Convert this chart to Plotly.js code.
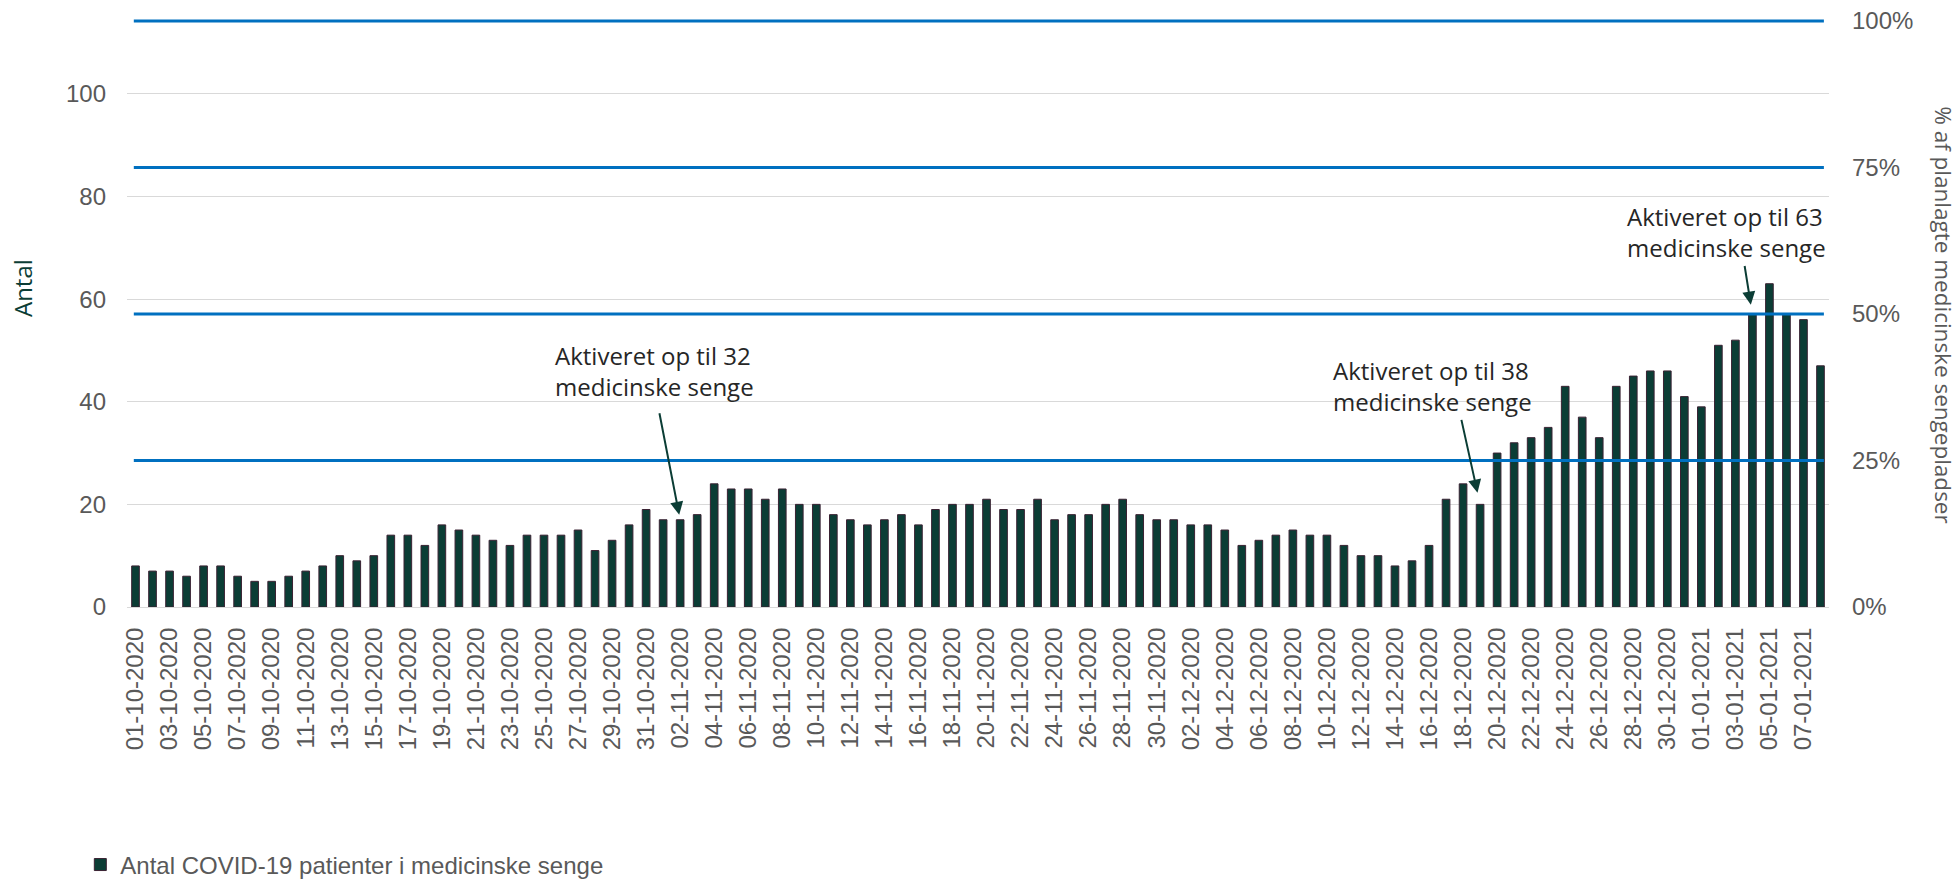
<!DOCTYPE html>
<html>
<head>
<meta charset="utf-8">
<script src="https://cdn.plot.ly/plotly-3.0.1.min.js"></script>
<style>
html,body{margin:0;padding:0;background:#fff;}
#chart{width:1959px;height:879px;}
</style>
</head>
<body>
<div id="chart"></div>
<script>
const dates = [
"01-10-2020","02-10-2020","03-10-2020","04-10-2020","05-10-2020","06-10-2020","07-10-2020","08-10-2020","09-10-2020","10-10-2020",
"11-10-2020","12-10-2020","13-10-2020","14-10-2020","15-10-2020","16-10-2020","17-10-2020","18-10-2020","19-10-2020","20-10-2020",
"21-10-2020","22-10-2020","23-10-2020","24-10-2020","25-10-2020","26-10-2020","27-10-2020","28-10-2020","29-10-2020","30-10-2020",
"31-10-2020","01-11-2020","02-11-2020","03-11-2020","04-11-2020","05-11-2020","06-11-2020","07-11-2020","08-11-2020","09-11-2020",
"10-11-2020","11-11-2020","12-11-2020","13-11-2020","14-11-2020","15-11-2020","16-11-2020","17-11-2020","18-11-2020","19-11-2020",
"20-11-2020","21-11-2020","22-11-2020","23-11-2020","24-11-2020","25-11-2020","26-11-2020","27-11-2020","28-11-2020","29-11-2020",
"30-11-2020","01-12-2020","02-12-2020","03-12-2020","04-12-2020","05-12-2020","06-12-2020","07-12-2020","08-12-2020","09-12-2020",
"10-12-2020","11-12-2020","12-12-2020","13-12-2020","14-12-2020","15-12-2020","16-12-2020","17-12-2020","18-12-2020","19-12-2020",
"20-12-2020","21-12-2020","22-12-2020","23-12-2020","24-12-2020","25-12-2020","26-12-2020","27-12-2020","28-12-2020","29-12-2020",
"30-12-2020","31-12-2020","01-01-2021","02-01-2021","03-01-2021","04-01-2021","05-01-2021","06-01-2021","07-01-2021","08-01-2021"
];

const patients = [
8,7,7,6,8,8,6,5,5,6,
7,8,10,9,10,14,14,12,16,15,
14,13,12,14,14,14,15,11,13,16,
19,17,17,18,24,23,23,21,23,20,
20,18,17,16,17,18,16,19,20,20,
21,19,19,21,17,18,18,20,21,18,
17,17,16,16,15,12,13,14,15,14,
14,12,10,10,8,9,12,21,24,20,
30,32,33,35,43,37,33,43,45,46,
46,41,39,51,52,57,63,57,56,47
];

const seriesName = "Antal COVID-19 patienter i medicinske senge";
const leftTitle = "Antal";
const rightTitle = "% af planlagte medicinske sengepladser";
const leftTicks = [0, 20, 40, 60, 80, 100];
const pctTicks = [0, 25, 50, 75, 100];
const pctLabels = ["0%", "25%", "50%", "75%", "100%"];
const capacityLines = [25, 50, 75, 100];

// Callouts: text, date pointed at, value pointed at
const calloutTexts = [
  "Aktiveret op til 32<br>medicinske senge",
  "Aktiveret op til 38<br>medicinske senge",
  "Aktiveret op til 63<br>medicinske senge"
];
const calloutDates = ["02-11-2020", "19-12-2020", "04-01-2021"];
const calloutValues = [17, 20, 57];

const xTickVals = dates.filter((d, i) => i % 2 === 0);

const gray = "#595959";
const tickFont = {family: "Liberation Sans, Arial, sans-serif", size: 24, color: gray};
const annFont = {family: "Open Sans, sans-serif", size: 24, color: "#262626"};

const trace = {
  type: "bar",
  x: dates,
  y: patients,
  name: seriesName,
  marker: {color: "#0b3d35", line: {color: "#3a2233", width: 1}},
  showlegend: true,
  hoverinfo: "x+y"
};

// invisible trace to activate right axis
const traceRight = {
  type: "scatter",
  x: [dates[0]],
  y: [0],
  yaxis: "y2",
  mode: "markers",
  marker: {opacity: 0},
  showlegend: false,
  hoverinfo: "skip"
};

const shapes = capacityLines.map(p => ({
  type: "line", xref: "paper", yref: "y2",
  x0: 0.004, x1: 0.997, y0: p, y1: p,
  line: {color: "#0070c0", width: 3},
  layer: "above"
}));

// positions of callout texts (paper coordinates)
const textPos = [
  {x: 0.2503, y: 0.400},
  {x: 0.7072, y: 0.376},
  {x: 0.8800, y: 0.637}
];
// arrow offsets in px and standoff
const arrowGeom = [
  {ax: -21, ay: -108, standoff: 5},
  {ax: -19, ay: -86, standoff: 12},
  {ax: -8, ay: -50, standoff: 10}
];

const annotations = [];
calloutTexts.forEach((t, i) => {
  annotations.push({
    text: t, xref: "paper", yref: "paper",
    x: textPos[i].x, y: textPos[i].y,
    xanchor: "left", yanchor: "middle", align: "left",
    showarrow: false, font: annFont
  });
  annotations.push({
    text: "", xref: "x", yref: "y",
    x: calloutDates[i], y: calloutValues[i],
    ax: arrowGeom[i].ax, ay: arrowGeom[i].ay,
    showarrow: true, arrowhead: 2, arrowsize: 1.3, arrowwidth: 2,
    arrowcolor: "#0b3d35", standoff: arrowGeom[i].standoff
  });
});
// axis titles
annotations.push({
  text: leftTitle,
  xref: "paper", yref: "paper", x: -0.0617, y: 0.5415,
  xanchor: "center", yanchor: "middle",
  textangle: -90, showarrow: false,
  font: {family: "Open Sans, sans-serif", size: 24, color: "#0b3d35"}
});
annotations.push({
  text: rightTitle,
  xref: "paper", yref: "paper", x: 1.0676, y: 0.497,
  xanchor: "center", yanchor: "middle",
  textangle: 90, showarrow: false,
  font: {family: "Open Sans, sans-serif", size: 22.5, color: gray}
});

const layout = {
  width: 1959, height: 879,
  margin: {l: 127, r: 130, t: 18, b: 272, pad: 0, autoexpand: false},
  paper_bgcolor: "#ffffff", plot_bgcolor: "#ffffff",
  bargap: 0.55,
  xaxis: {
    type: "category",
    range: [-0.5, dates.length - 0.5],
    tickmode: "array", tickvals: xTickVals, ticktext: xTickVals,
    tickangle: -90, tickfont: tickFont,
    showgrid: false, zeroline: false,
    showline: true, linecolor: "#d9d9d9", linewidth: 1,
    ticks: "", ticklabelstandoff: 10, automargin: false
  },
  yaxis: {
    range: [0, 114.78],
    tickmode: "array", tickvals: leftTicks,
    tickfont: tickFont,
    gridcolor: "#d9d9d9", gridwidth: 1,
    zeroline: false, showline: false, ticks: "",
    ticklabelstandoff: 20, automargin: false
  },
  yaxis2: {
    overlaying: "y", side: "right",
    range: [0, 100.51],
    tickmode: "array", tickvals: pctTicks, ticktext: pctLabels,
    tickfont: tickFont,
    showgrid: false, zeroline: false, showline: false, ticks: "",
    ticklabelstandoff: 22, automargin: false
  },
  showlegend: true,
  legend: {
    orientation: "h",
    xref: "container", yref: "container",
    x: 0.041, y: 0.016, xanchor: "left", yanchor: "middle",
    font: {family: "Liberation Sans, Arial, sans-serif", size: 24, color: gray},
    bgcolor: "rgba(0,0,0,0)"
  },
  shapes: shapes,
  annotations: annotations
};

Plotly.newPlot("chart", [trace, traceRight], layout, {displayModeBar: false, staticPlot: true});
</script>
</body>
</html>
